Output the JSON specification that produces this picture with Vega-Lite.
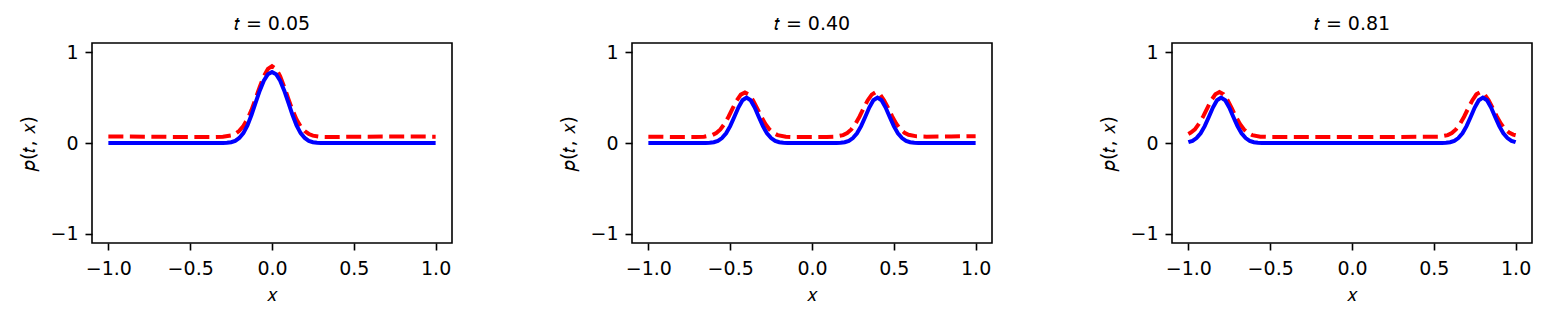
{
  "$schema": "https://vega.github.io/schema/vega-lite/v6.json",
  "padding": {"left": 19, "top": 15, "right": 5, "bottom": 5},
  "data": {"values": [
    {"t": "𝑡 = 0.05", "series": "exact", "x": -1.0, "p": 0},
    {"t": "𝑡 = 0.05", "series": "exact", "x": -0.75, "p": 0},
    {"t": "𝑡 = 0.05", "series": "exact", "x": -0.5, "p": 0},
    {"t": "𝑡 = 0.05", "series": "exact", "x": -0.35, "p": 0},
    {"t": "𝑡 = 0.05", "series": "exact", "x": -0.3, "p": 0.001},
    {"t": "𝑡 = 0.05", "series": "exact", "x": -0.275, "p": 0.003},
    {"t": "𝑡 = 0.05", "series": "exact", "x": -0.25, "p": 0.009},
    {"t": "𝑡 = 0.05", "series": "exact", "x": -0.225, "p": 0.024},
    {"t": "𝑡 = 0.05", "series": "exact", "x": -0.2, "p": 0.055},
    {"t": "𝑡 = 0.05", "series": "exact", "x": -0.175, "p": 0.109},
    {"t": "𝑡 = 0.05", "series": "exact", "x": -0.15, "p": 0.194},
    {"t": "𝑡 = 0.05", "series": "exact", "x": -0.125, "p": 0.31},
    {"t": "𝑡 = 0.05", "series": "exact", "x": -0.1, "p": 0.444},
    {"t": "𝑡 = 0.05", "series": "exact", "x": -0.075, "p": 0.576},
    {"t": "𝑡 = 0.05", "series": "exact", "x": -0.05, "p": 0.685},
    {"t": "𝑡 = 0.05", "series": "exact", "x": -0.025, "p": 0.756},
    {"t": "𝑡 = 0.05", "series": "exact", "x": 0, "p": 0.78},
    {"t": "𝑡 = 0.05", "series": "exact", "x": 0.025, "p": 0.756},
    {"t": "𝑡 = 0.05", "series": "exact", "x": 0.05, "p": 0.685},
    {"t": "𝑡 = 0.05", "series": "exact", "x": 0.075, "p": 0.576},
    {"t": "𝑡 = 0.05", "series": "exact", "x": 0.1, "p": 0.444},
    {"t": "𝑡 = 0.05", "series": "exact", "x": 0.125, "p": 0.31},
    {"t": "𝑡 = 0.05", "series": "exact", "x": 0.15, "p": 0.194},
    {"t": "𝑡 = 0.05", "series": "exact", "x": 0.175, "p": 0.109},
    {"t": "𝑡 = 0.05", "series": "exact", "x": 0.2, "p": 0.055},
    {"t": "𝑡 = 0.05", "series": "exact", "x": 0.225, "p": 0.024},
    {"t": "𝑡 = 0.05", "series": "exact", "x": 0.25, "p": 0.009},
    {"t": "𝑡 = 0.05", "series": "exact", "x": 0.275, "p": 0.003},
    {"t": "𝑡 = 0.05", "series": "exact", "x": 0.3, "p": 0.001},
    {"t": "𝑡 = 0.05", "series": "exact", "x": 0.35, "p": 0},
    {"t": "𝑡 = 0.05", "series": "exact", "x": 0.5, "p": 0},
    {"t": "𝑡 = 0.05", "series": "exact", "x": 0.75, "p": 0},
    {"t": "𝑡 = 0.05", "series": "exact", "x": 1.0, "p": 0},
    {"t": "𝑡 = 0.05", "series": "pred", "x": -1.0, "p": 0.072},
    {"t": "𝑡 = 0.05", "series": "pred", "x": -0.75, "p": 0.069},
    {"t": "𝑡 = 0.05", "series": "pred", "x": -0.5, "p": 0.066},
    {"t": "𝑡 = 0.05", "series": "pred", "x": -0.35, "p": 0.066},
    {"t": "𝑡 = 0.05", "series": "pred", "x": -0.3, "p": 0.069},
    {"t": "𝑡 = 0.05", "series": "pred", "x": -0.25, "p": 0.083},
    {"t": "𝑡 = 0.05", "series": "pred", "x": -0.225, "p": 0.101},
    {"t": "𝑡 = 0.05", "series": "pred", "x": -0.2, "p": 0.134},
    {"t": "𝑡 = 0.05", "series": "pred", "x": -0.175, "p": 0.187},
    {"t": "𝑡 = 0.05", "series": "pred", "x": -0.15, "p": 0.262},
    {"t": "𝑡 = 0.05", "series": "pred", "x": -0.125, "p": 0.364},
    {"t": "𝑡 = 0.05", "series": "pred", "x": -0.1, "p": 0.488},
    {"t": "𝑡 = 0.05", "series": "pred", "x": -0.075, "p": 0.617},
    {"t": "𝑡 = 0.05", "series": "pred", "x": -0.05, "p": 0.735},
    {"t": "𝑡 = 0.05", "series": "pred", "x": -0.025, "p": 0.815},
    {"t": "𝑡 = 0.05", "series": "pred", "x": 0, "p": 0.845},
    {"t": "𝑡 = 0.05", "series": "pred", "x": 0.025, "p": 0.815},
    {"t": "𝑡 = 0.05", "series": "pred", "x": 0.05, "p": 0.734},
    {"t": "𝑡 = 0.05", "series": "pred", "x": 0.075, "p": 0.616},
    {"t": "𝑡 = 0.05", "series": "pred", "x": 0.1, "p": 0.486},
    {"t": "𝑡 = 0.05", "series": "pred", "x": 0.125, "p": 0.362},
    {"t": "𝑡 = 0.05", "series": "pred", "x": 0.15, "p": 0.259},
    {"t": "𝑡 = 0.05", "series": "pred", "x": 0.175, "p": 0.183},
    {"t": "𝑡 = 0.05", "series": "pred", "x": 0.2, "p": 0.131},
    {"t": "𝑡 = 0.05", "series": "pred", "x": 0.225, "p": 0.099},
    {"t": "𝑡 = 0.05", "series": "pred", "x": 0.25, "p": 0.081},
    {"t": "𝑡 = 0.05", "series": "pred", "x": 0.3, "p": 0.068},
    {"t": "𝑡 = 0.05", "series": "pred", "x": 0.35, "p": 0.066},
    {"t": "𝑡 = 0.05", "series": "pred", "x": 0.5, "p": 0.069},
    {"t": "𝑡 = 0.05", "series": "pred", "x": 0.75, "p": 0.071},
    {"t": "𝑡 = 0.05", "series": "pred", "x": 1.0, "p": 0.07},
    {"t": "𝑡 = 0.40", "series": "exact", "x": -1.0, "p": 0},
    {"t": "𝑡 = 0.40", "series": "exact", "x": -0.7, "p": 0},
    {"t": "𝑡 = 0.40", "series": "exact", "x": -0.65, "p": 0.001},
    {"t": "𝑡 = 0.40", "series": "exact", "x": -0.625, "p": 0.003},
    {"t": "𝑡 = 0.40", "series": "exact", "x": -0.6, "p": 0.009},
    {"t": "𝑡 = 0.40", "series": "exact", "x": -0.575, "p": 0.024},
    {"t": "𝑡 = 0.40", "series": "exact", "x": -0.55, "p": 0.054},
    {"t": "𝑡 = 0.40", "series": "exact", "x": -0.525, "p": 0.106},
    {"t": "𝑡 = 0.40", "series": "exact", "x": -0.5, "p": 0.185},
    {"t": "𝑡 = 0.40", "series": "exact", "x": -0.475, "p": 0.286},
    {"t": "𝑡 = 0.40", "series": "exact", "x": -0.45, "p": 0.39},
    {"t": "𝑡 = 0.40", "series": "exact", "x": -0.425, "p": 0.47},
    {"t": "𝑡 = 0.40", "series": "exact", "x": -0.4, "p": 0.5},
    {"t": "𝑡 = 0.40", "series": "exact", "x": -0.375, "p": 0.47},
    {"t": "𝑡 = 0.40", "series": "exact", "x": -0.35, "p": 0.39},
    {"t": "𝑡 = 0.40", "series": "exact", "x": -0.325, "p": 0.286},
    {"t": "𝑡 = 0.40", "series": "exact", "x": -0.3, "p": 0.185},
    {"t": "𝑡 = 0.40", "series": "exact", "x": -0.275, "p": 0.106},
    {"t": "𝑡 = 0.40", "series": "exact", "x": -0.25, "p": 0.054},
    {"t": "𝑡 = 0.40", "series": "exact", "x": -0.225, "p": 0.024},
    {"t": "𝑡 = 0.40", "series": "exact", "x": -0.2, "p": 0.009},
    {"t": "𝑡 = 0.40", "series": "exact", "x": -0.175, "p": 0.003},
    {"t": "𝑡 = 0.40", "series": "exact", "x": -0.15, "p": 0.001},
    {"t": "𝑡 = 0.40", "series": "exact", "x": -0.1, "p": 0},
    {"t": "𝑡 = 0.40", "series": "exact", "x": 0, "p": 0},
    {"t": "𝑡 = 0.40", "series": "exact", "x": 0.1, "p": 0},
    {"t": "𝑡 = 0.40", "series": "exact", "x": 0.15, "p": 0.001},
    {"t": "𝑡 = 0.40", "series": "exact", "x": 0.175, "p": 0.003},
    {"t": "𝑡 = 0.40", "series": "exact", "x": 0.2, "p": 0.009},
    {"t": "𝑡 = 0.40", "series": "exact", "x": 0.225, "p": 0.024},
    {"t": "𝑡 = 0.40", "series": "exact", "x": 0.25, "p": 0.054},
    {"t": "𝑡 = 0.40", "series": "exact", "x": 0.275, "p": 0.106},
    {"t": "𝑡 = 0.40", "series": "exact", "x": 0.3, "p": 0.185},
    {"t": "𝑡 = 0.40", "series": "exact", "x": 0.325, "p": 0.286},
    {"t": "𝑡 = 0.40", "series": "exact", "x": 0.35, "p": 0.39},
    {"t": "𝑡 = 0.40", "series": "exact", "x": 0.375, "p": 0.47},
    {"t": "𝑡 = 0.40", "series": "exact", "x": 0.4, "p": 0.5},
    {"t": "𝑡 = 0.40", "series": "exact", "x": 0.425, "p": 0.47},
    {"t": "𝑡 = 0.40", "series": "exact", "x": 0.45, "p": 0.39},
    {"t": "𝑡 = 0.40", "series": "exact", "x": 0.475, "p": 0.286},
    {"t": "𝑡 = 0.40", "series": "exact", "x": 0.5, "p": 0.185},
    {"t": "𝑡 = 0.40", "series": "exact", "x": 0.525, "p": 0.106},
    {"t": "𝑡 = 0.40", "series": "exact", "x": 0.55, "p": 0.054},
    {"t": "𝑡 = 0.40", "series": "exact", "x": 0.575, "p": 0.024},
    {"t": "𝑡 = 0.40", "series": "exact", "x": 0.6, "p": 0.009},
    {"t": "𝑡 = 0.40", "series": "exact", "x": 0.625, "p": 0.003},
    {"t": "𝑡 = 0.40", "series": "exact", "x": 0.65, "p": 0.001},
    {"t": "𝑡 = 0.40", "series": "exact", "x": 0.7, "p": 0},
    {"t": "𝑡 = 0.40", "series": "exact", "x": 1.0, "p": 0},
    {"t": "𝑡 = 0.40", "series": "pred", "x": -1.0, "p": 0.07},
    {"t": "𝑡 = 0.40", "series": "pred", "x": -0.8, "p": 0.066},
    {"t": "𝑡 = 0.40", "series": "pred", "x": -0.71, "p": 0.065},
    {"t": "𝑡 = 0.40", "series": "pred", "x": -0.66, "p": 0.069},
    {"t": "𝑡 = 0.40", "series": "pred", "x": -0.61, "p": 0.087},
    {"t": "𝑡 = 0.40", "series": "pred", "x": -0.585, "p": 0.11},
    {"t": "𝑡 = 0.40", "series": "pred", "x": -0.56, "p": 0.149},
    {"t": "𝑡 = 0.40", "series": "pred", "x": -0.535, "p": 0.21},
    {"t": "𝑡 = 0.40", "series": "pred", "x": -0.51, "p": 0.289},
    {"t": "𝑡 = 0.40", "series": "pred", "x": -0.485, "p": 0.381},
    {"t": "𝑡 = 0.40", "series": "pred", "x": -0.46, "p": 0.468},
    {"t": "𝑡 = 0.40", "series": "pred", "x": -0.435, "p": 0.532},
    {"t": "𝑡 = 0.40", "series": "pred", "x": -0.41, "p": 0.555},
    {"t": "𝑡 = 0.40", "series": "pred", "x": -0.385, "p": 0.532},
    {"t": "𝑡 = 0.40", "series": "pred", "x": -0.36, "p": 0.468},
    {"t": "𝑡 = 0.40", "series": "pred", "x": -0.335, "p": 0.381},
    {"t": "𝑡 = 0.40", "series": "pred", "x": -0.31, "p": 0.289},
    {"t": "𝑡 = 0.40", "series": "pred", "x": -0.285, "p": 0.21},
    {"t": "𝑡 = 0.40", "series": "pred", "x": -0.26, "p": 0.149},
    {"t": "𝑡 = 0.40", "series": "pred", "x": -0.235, "p": 0.11},
    {"t": "𝑡 = 0.40", "series": "pred", "x": -0.21, "p": 0.087},
    {"t": "𝑡 = 0.40", "series": "pred", "x": -0.16, "p": 0.069},
    {"t": "𝑡 = 0.40", "series": "pred", "x": -0.11, "p": 0.065},
    {"t": "𝑡 = 0.40", "series": "pred", "x": 0, "p": 0.065},
    {"t": "𝑡 = 0.40", "series": "pred", "x": 0.09, "p": 0.066},
    {"t": "𝑡 = 0.40", "series": "pred", "x": 0.14, "p": 0.069},
    {"t": "𝑡 = 0.40", "series": "pred", "x": 0.19, "p": 0.087},
    {"t": "𝑡 = 0.40", "series": "pred", "x": 0.215, "p": 0.11},
    {"t": "𝑡 = 0.40", "series": "pred", "x": 0.24, "p": 0.149},
    {"t": "𝑡 = 0.40", "series": "pred", "x": 0.265, "p": 0.21},
    {"t": "𝑡 = 0.40", "series": "pred", "x": 0.29, "p": 0.289},
    {"t": "𝑡 = 0.40", "series": "pred", "x": 0.315, "p": 0.381},
    {"t": "𝑡 = 0.40", "series": "pred", "x": 0.34, "p": 0.468},
    {"t": "𝑡 = 0.40", "series": "pred", "x": 0.365, "p": 0.532},
    {"t": "𝑡 = 0.40", "series": "pred", "x": 0.39, "p": 0.56},
    {"t": "𝑡 = 0.40", "series": "pred", "x": 0.415, "p": 0.535},
    {"t": "𝑡 = 0.40", "series": "pred", "x": 0.44, "p": 0.47},
    {"t": "𝑡 = 0.40", "series": "pred", "x": 0.465, "p": 0.385},
    {"t": "𝑡 = 0.40", "series": "pred", "x": 0.49, "p": 0.292},
    {"t": "𝑡 = 0.40", "series": "pred", "x": 0.515, "p": 0.213},
    {"t": "𝑡 = 0.40", "series": "pred", "x": 0.54, "p": 0.152},
    {"t": "𝑡 = 0.40", "series": "pred", "x": 0.565, "p": 0.113},
    {"t": "𝑡 = 0.40", "series": "pred", "x": 0.59, "p": 0.09},
    {"t": "𝑡 = 0.40", "series": "pred", "x": 0.64, "p": 0.073},
    {"t": "𝑡 = 0.40", "series": "pred", "x": 0.7, "p": 0.07},
    {"t": "𝑡 = 0.40", "series": "pred", "x": 0.85, "p": 0.072},
    {"t": "𝑡 = 0.40", "series": "pred", "x": 1.0, "p": 0.075},
    {"t": "𝑡 = 0.81", "series": "exact", "x": -1.0, "p": 0.009},
    {"t": "𝑡 = 0.81", "series": "exact", "x": -0.975, "p": 0.024},
    {"t": "𝑡 = 0.81", "series": "exact", "x": -0.95, "p": 0.054},
    {"t": "𝑡 = 0.81", "series": "exact", "x": -0.925, "p": 0.106},
    {"t": "𝑡 = 0.81", "series": "exact", "x": -0.9, "p": 0.185},
    {"t": "𝑡 = 0.81", "series": "exact", "x": -0.875, "p": 0.286},
    {"t": "𝑡 = 0.81", "series": "exact", "x": -0.85, "p": 0.39},
    {"t": "𝑡 = 0.81", "series": "exact", "x": -0.825, "p": 0.47},
    {"t": "𝑡 = 0.81", "series": "exact", "x": -0.8, "p": 0.5},
    {"t": "𝑡 = 0.81", "series": "exact", "x": -0.775, "p": 0.47},
    {"t": "𝑡 = 0.81", "series": "exact", "x": -0.75, "p": 0.39},
    {"t": "𝑡 = 0.81", "series": "exact", "x": -0.725, "p": 0.286},
    {"t": "𝑡 = 0.81", "series": "exact", "x": -0.7, "p": 0.185},
    {"t": "𝑡 = 0.81", "series": "exact", "x": -0.675, "p": 0.106},
    {"t": "𝑡 = 0.81", "series": "exact", "x": -0.65, "p": 0.054},
    {"t": "𝑡 = 0.81", "series": "exact", "x": -0.625, "p": 0.024},
    {"t": "𝑡 = 0.81", "series": "exact", "x": -0.6, "p": 0.009},
    {"t": "𝑡 = 0.81", "series": "exact", "x": -0.575, "p": 0.003},
    {"t": "𝑡 = 0.81", "series": "exact", "x": -0.55, "p": 0.001},
    {"t": "𝑡 = 0.81", "series": "exact", "x": -0.5, "p": 0},
    {"t": "𝑡 = 0.81", "series": "exact", "x": 0, "p": 0},
    {"t": "𝑡 = 0.81", "series": "exact", "x": 0.5, "p": 0},
    {"t": "𝑡 = 0.81", "series": "exact", "x": 0.55, "p": 0.001},
    {"t": "𝑡 = 0.81", "series": "exact", "x": 0.575, "p": 0.003},
    {"t": "𝑡 = 0.81", "series": "exact", "x": 0.6, "p": 0.009},
    {"t": "𝑡 = 0.81", "series": "exact", "x": 0.625, "p": 0.024},
    {"t": "𝑡 = 0.81", "series": "exact", "x": 0.65, "p": 0.054},
    {"t": "𝑡 = 0.81", "series": "exact", "x": 0.675, "p": 0.106},
    {"t": "𝑡 = 0.81", "series": "exact", "x": 0.7, "p": 0.185},
    {"t": "𝑡 = 0.81", "series": "exact", "x": 0.725, "p": 0.286},
    {"t": "𝑡 = 0.81", "series": "exact", "x": 0.75, "p": 0.39},
    {"t": "𝑡 = 0.81", "series": "exact", "x": 0.775, "p": 0.47},
    {"t": "𝑡 = 0.81", "series": "exact", "x": 0.8, "p": 0.5},
    {"t": "𝑡 = 0.81", "series": "exact", "x": 0.825, "p": 0.47},
    {"t": "𝑡 = 0.81", "series": "exact", "x": 0.85, "p": 0.39},
    {"t": "𝑡 = 0.81", "series": "exact", "x": 0.875, "p": 0.286},
    {"t": "𝑡 = 0.81", "series": "exact", "x": 0.9, "p": 0.185},
    {"t": "𝑡 = 0.81", "series": "exact", "x": 0.925, "p": 0.106},
    {"t": "𝑡 = 0.81", "series": "exact", "x": 0.95, "p": 0.054},
    {"t": "𝑡 = 0.81", "series": "exact", "x": 0.975, "p": 0.024},
    {"t": "𝑡 = 0.81", "series": "exact", "x": 1.0, "p": 0.009},
    {"t": "𝑡 = 0.81", "series": "pred", "x": -1.0, "p": 0.1},
    {"t": "𝑡 = 0.81", "series": "pred", "x": -0.985, "p": 0.115},
    {"t": "𝑡 = 0.81", "series": "pred", "x": -0.96, "p": 0.15},
    {"t": "𝑡 = 0.81", "series": "pred", "x": -0.935, "p": 0.212},
    {"t": "𝑡 = 0.81", "series": "pred", "x": -0.91, "p": 0.29},
    {"t": "𝑡 = 0.81", "series": "pred", "x": -0.885, "p": 0.382},
    {"t": "𝑡 = 0.81", "series": "pred", "x": -0.86, "p": 0.47},
    {"t": "𝑡 = 0.81", "series": "pred", "x": -0.835, "p": 0.535},
    {"t": "𝑡 = 0.81", "series": "pred", "x": -0.81, "p": 0.56},
    {"t": "𝑡 = 0.81", "series": "pred", "x": -0.785, "p": 0.535},
    {"t": "𝑡 = 0.81", "series": "pred", "x": -0.76, "p": 0.47},
    {"t": "𝑡 = 0.81", "series": "pred", "x": -0.735, "p": 0.382},
    {"t": "𝑡 = 0.81", "series": "pred", "x": -0.71, "p": 0.29},
    {"t": "𝑡 = 0.81", "series": "pred", "x": -0.685, "p": 0.21},
    {"t": "𝑡 = 0.81", "series": "pred", "x": -0.66, "p": 0.149},
    {"t": "𝑡 = 0.81", "series": "pred", "x": -0.635, "p": 0.11},
    {"t": "𝑡 = 0.81", "series": "pred", "x": -0.61, "p": 0.087},
    {"t": "𝑡 = 0.81", "series": "pred", "x": -0.56, "p": 0.07},
    {"t": "𝑡 = 0.81", "series": "pred", "x": -0.5, "p": 0.066},
    {"t": "𝑡 = 0.81", "series": "pred", "x": -0.2, "p": 0.066},
    {"t": "𝑡 = 0.81", "series": "pred", "x": 0, "p": 0.066},
    {"t": "𝑡 = 0.81", "series": "pred", "x": 0.3, "p": 0.067},
    {"t": "𝑡 = 0.81", "series": "pred", "x": 0.5, "p": 0.068},
    {"t": "𝑡 = 0.81", "series": "pred", "x": 0.535, "p": 0.069},
    {"t": "𝑡 = 0.81", "series": "pred", "x": 0.585, "p": 0.087},
    {"t": "𝑡 = 0.81", "series": "pred", "x": 0.61, "p": 0.11},
    {"t": "𝑡 = 0.81", "series": "pred", "x": 0.635, "p": 0.149},
    {"t": "𝑡 = 0.81", "series": "pred", "x": 0.66, "p": 0.21},
    {"t": "𝑡 = 0.81", "series": "pred", "x": 0.685, "p": 0.289},
    {"t": "𝑡 = 0.81", "series": "pred", "x": 0.71, "p": 0.381},
    {"t": "𝑡 = 0.81", "series": "pred", "x": 0.735, "p": 0.468},
    {"t": "𝑡 = 0.81", "series": "pred", "x": 0.76, "p": 0.535},
    {"t": "𝑡 = 0.81", "series": "pred", "x": 0.785, "p": 0.56},
    {"t": "𝑡 = 0.81", "series": "pred", "x": 0.81, "p": 0.535},
    {"t": "𝑡 = 0.81", "series": "pred", "x": 0.835, "p": 0.47},
    {"t": "𝑡 = 0.81", "series": "pred", "x": 0.86, "p": 0.383},
    {"t": "𝑡 = 0.81", "series": "pred", "x": 0.885, "p": 0.292},
    {"t": "𝑡 = 0.81", "series": "pred", "x": 0.91, "p": 0.213},
    {"t": "𝑡 = 0.81", "series": "pred", "x": 0.935, "p": 0.152},
    {"t": "𝑡 = 0.81", "series": "pred", "x": 0.96, "p": 0.115},
    {"t": "𝑡 = 0.81", "series": "pred", "x": 0.985, "p": 0.092},
    {"t": "𝑡 = 0.81", "series": "pred", "x": 1.0, "p": 0.085}
  ]},
  "facet": {
    "column": {
      "field": "t", "type": "nominal",
      "sort": ["𝑡 = 0.05", "𝑡 = 0.40", "𝑡 = 0.81"],
      "title": null,
      "header": {"labelFontSize": 19, "labelFont": "DejaVu Sans", "labelColor": "black", "labelPadding": 9, "labelOrient": "top"}
    }
  },
  "spacing": 180,
  "bounds": "flush",
  "resolve": {"axis": {"y": "independent"}},
  "spec": {
    "width": 360,
    "height": 200,
    "encoding": {
      "x": {"field": "x", "type": "quantitative", "scale": {"domain": [-1.1, 1.1], "nice": false, "zero": false},
            "axis": {"values": [-1, -0.5, 0, 0.5, 1], "format": ".1f", "title": "𝑥"}},
      "y": {"field": "p", "type": "quantitative", "scale": {"domain": [-1.1, 1.1], "nice": false, "zero": false},
            "axis": {"values": [-1, 0, 1], "format": "d", "title": "𝑝(𝑡, 𝑥)"}}
    },
    "layer": [
      {"transform": [{"filter": "datum.series === 'pred'"}],
       "mark": {"type": "line", "color": "#ff0000", "strokeWidth": 4, "strokeDash": [15, 6.5], "strokeCap": "butt"},
       "encoding": {}},
      {"transform": [{"filter": "datum.series === 'exact'"}],
       "mark": {"type": "line", "color": "#0000ff", "strokeWidth": 4},
       "encoding": {}}
    ]
  },
  "config": {
    "font": "DejaVu Sans",
    "view": {"stroke": "black", "strokeWidth": 1.6},
    "axis": {"domain": false, "grid": false, "ticks": true, "tickColor": "black", "tickSize": 7, "tickWidth": 1.6,
             "labelFontSize": 19, "labelColor": "black", "labelFont": "DejaVu Sans",
             "titleFontSize": 19, "titleFont": "DejaVu Sans", "titleFontWeight": "normal", "titleColor": "black",
             "labelFlush": false, "labelOverlap": false},
    "axisX": {"labelPadding": 9, "titlePadding": 7},
    "axisY": {"labelPadding": 7, "titlePadding": 11}
  }
}
